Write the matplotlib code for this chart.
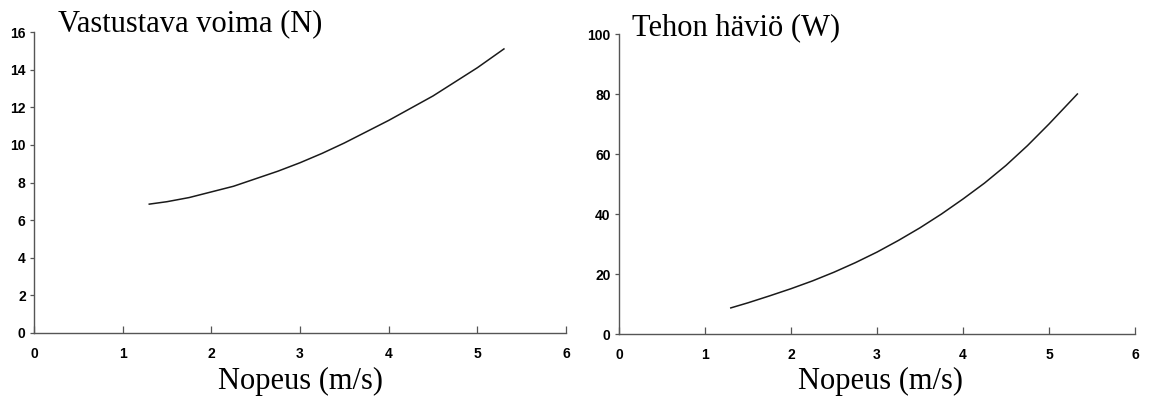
import matplotlib.pyplot as plt

# values
speed_force = [1.3, 1.5, 1.75, 2.0, 2.25, 2.5, 2.75, 3.0, 3.25, 3.5,
               3.75, 4.0, 4.25, 4.5, 4.75, 5.0, 5.3]
force = [6.85, 6.98, 7.2, 7.5, 7.8, 8.2, 8.6, 9.05, 9.55, 10.1,
         10.7, 11.3, 11.95, 12.6, 13.35, 14.1, 15.1]

speed_power = [1.3, 1.5, 1.75, 2.0, 2.25, 2.5, 2.75, 3.0, 3.25, 3.5,
               3.75, 4.0, 4.25, 4.5, 4.75, 5.0, 5.33]
power = [8.7, 10.4, 12.7, 15.1, 17.7, 20.6, 23.8, 27.3, 31.2, 35.4,
         40.0, 45.0, 50.3, 56.2, 62.8, 70.0, 80.0]

x_ticks = [0, 1, 2, 3, 4, 5, 6]
force_ticks = [0, 2, 4, 6, 8, 10, 12, 14, 16]
power_ticks = [0, 20, 40, 60, 80, 100]

titles = ["Vastustava voima (N)", "Tehon häviö (W)"]
xlabel = "Nopeus (m/s)"

W, H = 1150, 397
fig = plt.figure(figsize=(W / 100, H / 100), dpi=100)

# axes boxes in pixels: left, right, y of zero, y of top
boxes = [(34, 566, 333, 32), (619, 1135, 334, 34)]
axes = []
for (x0, x1, yb, yt) in boxes:
    ax = fig.add_axes([x0 / W, 1 - yb / H, (x1 - x0) / W, (yb - yt) / H])
    axes.append(ax)

tick_font = dict(family="Liberation Sans", weight="bold", size=10)
serif = "Liberation Serif"

for ax, xs, ys, yt, ymax in [(axes[0], speed_force, force, force_ticks, 16),
                              (axes[1], speed_power, power, power_ticks, 100)]:
    ax.plot(xs, ys, color="#1a1a1a", lw=1.1)
    ax.set_xlim(0, 6)
    ax.set_ylim(0, ymax)
    ax.set_xticks(x_ticks)
    ax.set_yticks(yt)
    ax.set_xticklabels([str(t) for t in x_ticks], fontdict=tick_font)
    ax.set_yticklabels([str(t) for t in yt], fontdict=tick_font)
    for s in ["top", "right"]:
        ax.spines[s].set_visible(False)
    for s in ["left", "bottom"]:
        ax.spines[s].set_color("#555555")
        ax.spines[s].set_linewidth(1.0)
    ax.tick_params(axis="x", direction="in", length=5, width=0.9,
                   color="#555555", pad=10)
    ax.tick_params(axis="y", direction="out", length=3, width=0.9,
                   color="#555555", pad=3)
    ax.patch.set_visible(False)

# titles and axis labels in serif type
fig.text(58 / W, 1 - 31.5 / H, titles[0], family=serif, size=22,
         va="baseline", ha="left")
fig.text(632 / W, 1 - 35 / H, titles[1], family=serif, size=22,
         va="baseline", ha="left")
fig.text(301 / W, 1 - 389 / H, xlabel, family=serif, size=22,
         va="baseline", ha="center")
fig.text(881 / W, 1 - 389 / H, xlabel, family=serif, size=22,
         va="baseline", ha="center")

fig.savefig("out.png", dpi=100)
